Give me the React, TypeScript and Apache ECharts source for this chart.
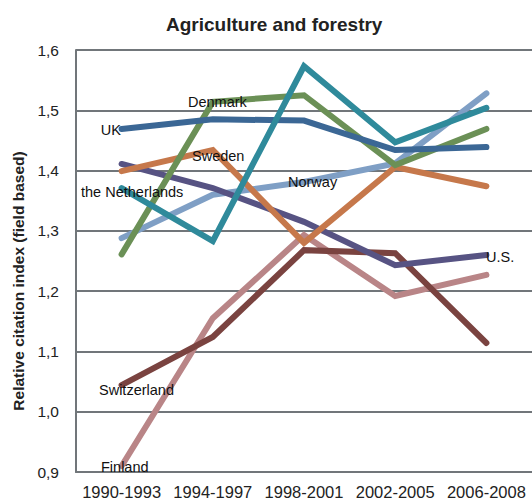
import React, { useEffect, useRef } from "react";
import * as echarts from "echarts";

const categories = ["1990-1993", "1994-1997", "1998-2001", "2002-2005", "2006-2008"];
const seriesNames = ["Norway", "Finland", "Switzerland", "U.S.", "Sweden", "Denmark", "UK", "the Netherlands"];
const norway = [1.288, 1.36, 1.381, 1.412, 1.528];
const finland = [0.91, 1.155, 1.293, 1.192, 1.227];
const switzerland = [1.044, 1.124, 1.268, 1.263, 1.114];
const us = [1.411, 1.371, 1.315, 1.243, 1.26];
const sweden = [1.399, 1.434, 1.28, 1.406, 1.374];
const denmark = [1.261, 1.514, 1.525, 1.409, 1.469];
const uk = [1.469, 1.485, 1.483, 1.434, 1.439];
const netherlands = [1.371, 1.283, 1.573, 1.447, 1.504];
const colors = ["#7f9fc5", "#b98587", "#7a4340", "#575383", "#c6784b", "#6b9056", "#3b6795", "#2f8a9b"];
const yTicks = [0.9, 1.0, 1.1, 1.2, 1.3, 1.4, 1.5, 1.6];

const FONT = "Liberation Sans, Arial, Helvetica, sans-serif";

export default function App() {
  const ref = useRef<HTMLDivElement>(null);
  useEffect(() => {
    if (!ref.current) return;
    const chart = echarts.init(ref.current, null, { renderer: "svg" });
    const dataSets = [norway, finland, switzerland, us, sweden, denmark, uk, netherlands];
    const labelText = (text: string, x: number, y: number, align: string = "left") => ({
      type: "text",
      x,
      y,
      z: 100,
      style: {
        text,
        fill: "#111",
        font: `14.5px ${FONT}`,
        textAlign: align,
        textVerticalAlign: "middle",
      },
    });
    chart.setOption({
      animation: false,
      backgroundColor: "#ffffff",
      title: {
        text: "Agriculture and forestry",
        left: 161,
        top: 10,
        textStyle: { fontFamily: FONT, fontSize: 19, fontWeight: "bold", color: "#222" },
      },
      grid: { left: 76, right: -4, top: 50, bottom: 30, containLabel: false },
      xAxis: {
        type: "category",
        data: categories,
        boundaryGap: true,
        axisLine: { show: true, lineStyle: { color: "#71767a", width: 2 } },
        axisTick: { show: false },
        axisLabel: { fontFamily: FONT, fontSize: 16.5, color: "#222", margin: 11, interval: 0 },
        splitLine: { show: false },
      },
      yAxis: {
        type: "value",
        min: 0.9,
        max: 1.6,
        interval: 0.1,
        axisLine: { show: true, lineStyle: { color: "#71767a", width: 2 } },
        axisTick: { show: false },
        axisLabel: {
          fontFamily: FONT,
          fontSize: 15.5,
          color: "#222",
          margin: 17,
          formatter: (v: number) => {
            const t = yTicks.find((k) => Math.abs(k - v) < 1e-6);
            return t === undefined ? "" : t.toFixed(1).replace(".", ",");
          },
        },
        splitLine: { show: true, lineStyle: { color: "#71767a", width: 2 } },
      },
      series: seriesNames.map((name, i) => ({
        name,
        type: "line",
        data: dataSets[i],
        symbol: "none",
        lineStyle: { color: colors[i], width: 6, cap: "round", join: "miter" },
        itemStyle: { color: colors[i] },
        z: 2 + i,
      })),
      graphic: [
        {
          type: "text",
          x: 18,
          y: 281,
          rotation: Math.PI / 2,
          z: 100,
          style: {
            text: "Relative citation index (field based)",
            fill: "#222",
            font: `bold 15.5px ${FONT}`,
            textAlign: "center",
            textVerticalAlign: "middle",
          },
        },
        labelText("UK", 121, 130, "right"),
        labelText("Denmark", 188, 102),
        labelText("Sweden", 192, 156),
        labelText("the Netherlands", 81, 192),
        labelText("Norway", 288, 182),
        labelText("U.S.", 486, 257),
        labelText("Switzerland", 99, 390),
        labelText("Finland", 101, 467),
      ],
    });
    return () => chart.dispose();
  }, []);
  return <div ref={ref} style={{ width: 532, height: 502, position: "absolute", left: 0, top: 0 }} />;
}
